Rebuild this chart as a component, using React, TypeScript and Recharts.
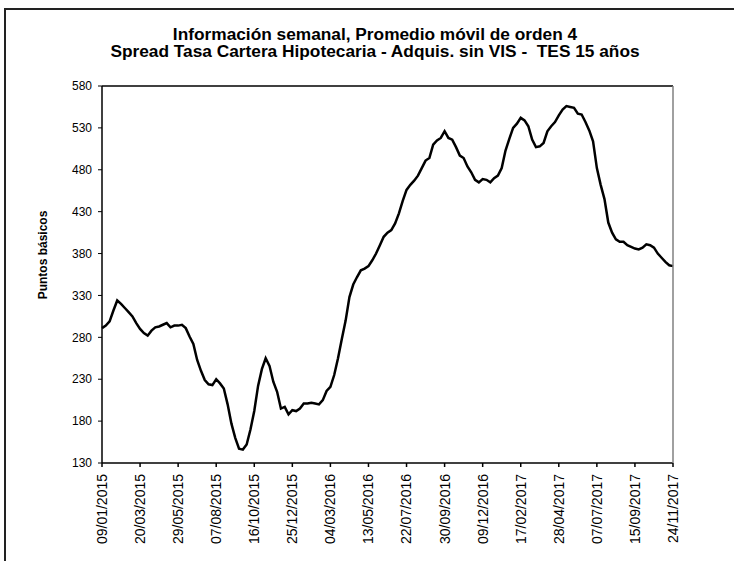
import { LineChart, Line, XAxis, YAxis, ReferenceLine } from "recharts";

const startDate = Date.UTC(2015, 0, 9);
const weekMs = 7 * 24 * 3600 * 1000;

const spread = [
  291, 294, 299, 312, 324, 320, 315, 310, 305, 297,
  290, 285, 282, 288, 292, 293, 295, 297, 292, 294,
  294, 295, 291, 281, 272, 253, 240, 229, 224, 223,
  230, 225, 219, 200, 177, 160, 147, 146, 152, 170,
  192, 222, 242, 255, 246, 227, 215, 195, 197, 188,
  193, 192, 195, 201, 201, 202, 201, 200, 205, 216,
  221, 235, 255, 278, 300, 328, 343, 352, 360, 362,
  365, 372, 380, 390, 400, 405, 408, 416, 428, 443,
  456, 462, 467, 473, 482, 491, 494, 510, 515, 518,
  526, 518, 516, 507, 497, 494, 484, 477, 468, 465,
  469, 468, 465, 470, 473, 482, 503, 517, 530, 535,
  542, 539, 532, 516, 507, 508, 512, 526, 532, 537,
  545, 552, 556, 555, 554, 547, 546, 537, 527, 514,
  482, 462, 445, 417, 405, 397, 394, 394, 390, 388,
  386, 385, 387, 391, 390, 387, 380, 375, 370, 366,
  365,
];

const xTicks = [
  "09/01/2015", "20/03/2015", "29/05/2015", "07/08/2015", "16/10/2015",
  "25/12/2015", "04/03/2016", "13/05/2016", "22/07/2016", "30/09/2016",
  "09/12/2016", "17/02/2017", "28/04/2017", "07/07/2017", "15/09/2017",
  "24/11/2017",
];

const yTicks = [130, 180, 230, 280, 330, 380, 430, 480, 530, 580];

const fmt = (t: number) => {
  const d = new Date(t);
  const dd = String(d.getUTCDate()).padStart(2, "0");
  const mm = String(d.getUTCMonth() + 1).padStart(2, "0");
  return `${dd}/${mm}/${d.getUTCFullYear()}`;
};

const data = spread.map((v, i) => ({ date: fmt(startDate + i * weekMs), value: v }));

const font = "'Liberation Sans', Arial, sans-serif";

function DateTick({ x, y, payload }: any) {
  return (
    <text
      x={0}
      y={0}
      dy="0.35em"
      textAnchor="end"
      fontSize={14}
      fontFamily={font}
      fill="#000"
      transform={`translate(${x},${y + 5}) rotate(-90)`}
    >
      {payload.value}
    </text>
  );
}

export default function App() {
  return (
    <div style={{ position: "absolute", left: 0, top: 0, width: 734, height: 561, overflow: "hidden", background: "#fff" }}>
      <div
        style={{
          position: "absolute",
          left: 4,
          top: 8,
          width: 760,
          height: 600,
          border: "2px solid #222",
          boxSizing: "border-box",
        }}
      />
      <div
        style={{
          position: "absolute",
          left: 0,
          width: 750,
          top: 26,
          textAlign: "center",
          fontFamily: font,
          fontWeight: "bold",
          fontSize: 16,
          lineHeight: "17px",
          transform: "scaleX(1.08)",
          transformOrigin: "375px 0",
        }}
      >
        <div>Información semanal, Promedio móvil de orden 4</div>
        <div>Spread Tasa Cartera Hipotecaria - Adquis. sin VIS -&nbsp; TES 15 años</div>
      </div>
      <div
        style={{
          position: "absolute",
          left: 43,
          top: 255,
          transform: "translate(-50%, -50%) rotate(-90deg)",
          whiteSpace: "nowrap",
          fontFamily: font,
          fontWeight: "bold",
          fontSize: 12,
        }}
      >
        Puntos básicos
      </div>
      <div style={{ position: "absolute", left: 0, top: 0 }}>
        <LineChart width={734} height={561} data={data} margin={{ top: 86, right: 0, bottom: 0, left: 0 }}>
          <XAxis
            dataKey="date"
            ticks={xTicks}
            interval={0}
            height={98}
            tick={<DateTick />}
            tickSize={4}
            stroke="#000"
            strokeWidth={1.5}
            axisLine={{ stroke: "#000", strokeWidth: 1.5 }}
            tickLine={{ stroke: "#000" }}
          />
          <YAxis
            yAxisId="l"
            domain={[130, 580]}
            ticks={yTicks}
            width={102}
            tickSize={4}
            tickMargin={6}
            axisLine={{ stroke: "#000", strokeWidth: 1.5 }}
            tickLine={{ stroke: "#000" }}
            tick={{ fill: "#000", fontSize: 12, fontFamily: font }}
          />
          <YAxis
            yAxisId="r"
            orientation="right"
            domain={[130, 580]}
            ticks={yTicks}
            width={61}
            tickSize={4}
            tickMargin={4}
            axisLine={{ stroke: "#808080", strokeWidth: 1.5 }}
            tickLine={{ stroke: "#808080" }}
            tick={{ fill: "#000", fontSize: 12, fontFamily: font }}
          />
          <ReferenceLine yAxisId="l" y={580} stroke="#000" strokeWidth={1.5} />
          <Line
            yAxisId="l"
            type="linear"
            dataKey="value"
            stroke="#000"
            strokeWidth={2.5}
            dot={false}
            isAnimationActive={false}
          />
        </LineChart>
      </div>
    </div>
  );
}
